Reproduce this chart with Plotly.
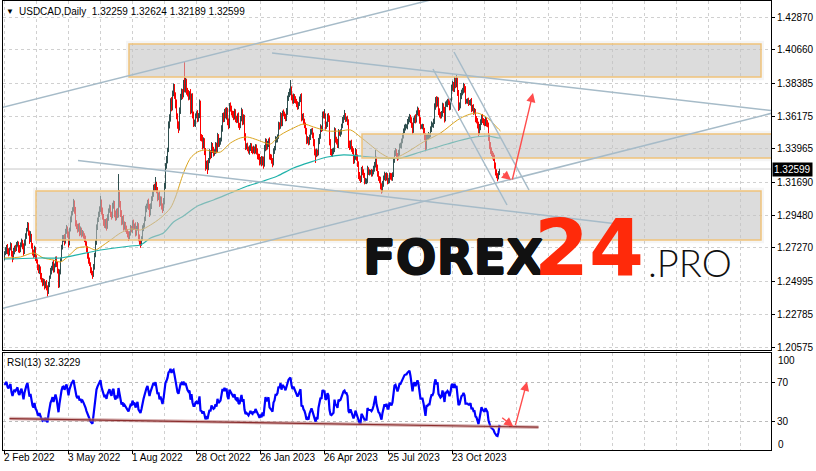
import numpy as np
import plotly.graph_objects as go

# ---------------- data (prices in pips, 1 pip = 0.0001) ----------------
LABEL_BARS = [0, 64, 128, 192, 256, 320, 384, 448]
DATE_LABELS = ["2 Feb 2022", "3 May 2022", "1 Aug 2022", "28 Oct 2022",
               "26 Jan 2023", "26 Apr 2023", "25 Jul 2023", "23 Oct 2023"]
PRICE_TICKS = [1.42870, 1.40660, 1.38385, 1.36175, 1.33965, 1.31690,
               1.29480, 1.27270, 1.24995, 1.22785, 1.20575]
PRICE_TICK_TEXT = ["1.42870", "1.40660", "1.38385", "1.36175", "1.33965", "1.31690",
                   "1.29480", "1.27270", "1.24995", "1.22785", "1.20575"]

PRE_CLOSE = [12500, 12570, 12510, 12490, 12480, 12510, 12570, 12640, 12640, 12700,
             12750, 12710, 12710, 12660]

CLOSE = [
    12690, 12710, 12735, 12700, 12690, 12720, 12745, 12690, 12660, 12700,
    12730, 12720, 12745, 12760, 12720, 12710, 12750, 12770, 12740, 12700,
    12760, 12810, 12850, 12880, 12830, 12780, 12810, 12740, 12700, 12680,
    12720, 12660, 12640, 12600, 12570, 12590, 12540, 12510, 12490, 12500,
    12470, 12490, 12460, 12430, 12480, 12530, 12570, 12590, 12620, 12580,
    12610, 12650, 12620, 12570, 12480, 12560, 12650, 12730, 12790, 12800,
    12770, 12840, 12860, 12820, 12760, 12850, 12920, 12960, 12990, 13030,
    12980, 12900, 12870, 12850, 12880, 12830, 12850, 12820, 12830, 12810,
    12790, 12760, 12720, 12680, 12640, 12620, 12580, 12560, 12545, 12600,
    12680, 12760, 12870, 12920, 12950, 12990, 13040, 12980, 12940, 12900,
    12880, 12910, 12870, 12930, 12980, 13000, 12960, 12940, 13010, 13030,
    12960, 12930, 12980, 12950, 13100, 13030, 12960, 12900, 12930, 12870,
    12890, 12860, 12840, 12820, 12800, 12830, 12860, 12850, 12900, 12870,
    12880, 12830, 12860, 12880, 12800, 12770, 12760, 12790, 12860, 12880,
    12920, 12990, 13010, 13040, 13010, 12960, 13010, 13060, 13090, 13140,
    13130, 13160, 13120, 13070, 13090, 13030, 13060, 13010, 12990, 13040,
    13150, 13280, 13320, 13390, 13560, 13600, 13720, 13680, 13770, 13810,
    13760, 13700, 13620, 13560, 13540, 13650, 13750, 13780, 13760, 13840,
    13800, 13850, 13790, 13770, 13750, 13770, 13660, 13750, 13630, 13570,
    13570, 13620, 13630, 13600, 13620, 13700, 13480, 13470, 13420, 13450,
    13380, 13280, 13300, 13270, 13320, 13370, 13350, 13420, 13390, 13370,
    13380, 13420, 13390, 13480, 13430, 13450, 13460, 13530, 13620, 13600,
    13650, 13620, 13660, 13580, 13550, 13690, 13670, 13640, 13630, 13610,
    13650, 13600, 13590, 13620, 13560, 13550, 13600, 13650, 13580, 13610,
    13480, 13410, 13420, 13400, 13380, 13400, 13420, 13390, 13380, 13400,
    13380, 13410, 13380, 13350, 13340, 13310, 13330, 13300, 13330, 13290,
    13400, 13450, 13410, 13430, 13450, 13350, 13340, 13320, 13300, 13380,
    13400, 13460, 13460, 13480, 13560, 13550, 13620, 13570, 13640, 13630,
    13620, 13600, 13650, 13740, 13760, 13780, 13800, 13750, 13720, 13750,
    13730, 13720, 13700, 13680, 13700, 13730, 13750, 13610, 13620, 13580,
    13560, 13520, 13450, 13460, 13440, 13480, 13510, 13520, 13490, 13440,
    13380, 13360, 13380, 13370, 13450, 13480, 13540, 13530, 13630, 13620,
    13620, 13550, 13560, 13620, 13600, 13450, 13380, 13370, 13380, 13390,
    13520, 13460, 13450, 13420, 13510, 13500, 13510, 13550, 13590, 13610,
    13620, 13600, 13600, 13580, 13430, 13410, 13440, 13400, 13380, 13320,
    13340, 13380, 13340, 13300, 13220, 13200, 13190, 13260, 13240, 13220,
    13180, 13180, 13180, 13260, 13240, 13240, 13240, 13230, 13240, 13260,
    13290, 13330, 13270, 13230, 13200, 13190, 13150, 13120, 13160, 13200,
    13220, 13200, 13220, 13180, 13180, 13220, 13210, 13200, 13220, 13320,
    13370, 13380, 13350, 13340, 13370, 13420, 13420, 13450, 13480, 13520,
    13540, 13550, 13550, 13580, 13600, 13610, 13590, 13560, 13520, 13590,
    13610, 13590, 13640, 13660, 13640, 13590, 13550, 13550, 13550, 13520,
    13480, 13410, 13480, 13480, 13490, 13490, 13530, 13560, 13560, 13580,
    13680, 13730, 13700, 13730, 13650, 13630, 13620, 13630, 13690, 13660,
    13600, 13700, 13700, 13720, 13710, 13680, 13720, 13810, 13830, 13800,
    13860, 13830, 13860, 13780, 13680, 13690, 13750, 13780, 13790, 13820,
    13800, 13720, 13720, 13720, 13710, 13710, 13720, 13670, 13680, 13650,
    13650, 13600, 13590, 13560, 13510, 13540, 13580, 13610, 13590, 13580,
    13570, 13590, 13570, 13560, 13480, 13420, 13390, 13370, 13350, 13340,
    13290, 13240, 13220, 13210, 13225.9, 13259.9,
]

UPPER_WICK = [
    15, 22, 12, 18, 25, 10, 20, 14, 16, 28, 12, 18, 22, 15, 10, 26, 14, 20, 12, 18,
    24, 16, 12, 22, 18, 14, 30, 12, 20, 16, 22, 14, 18, 10, 16, 24, 12, 18, 14, 20,
    16, 12, 20, 14, 18, 10, 22, 16, 14, 26, 12, 18, 20, 14, 16, 22, 12, 18, 24, 14,
    20, 16, 22, 12, 18, 14, 20, 16, 12, 28, 18, 24, 14, 20, 12, 16, 22, 14, 18, 10,
    16, 20, 12, 18, 14, 22, 10, 16, 12, 18, 14, 20, 16, 12, 22, 18, 38, 14, 20, 16,
    22, 12, 18, 24, 14, 20, 16, 12, 22, 18, 14, 20, 12, 16, 126, 18, 14, 22, 12, 20,
    16, 12, 18, 14, 20, 10, 22, 16, 14, 18, 12, 20, 16, 22, 14, 18, 12, 16, 20, 14,
    18, 22, 16, 12, 20, 14, 18, 16, 22, 14, 20, 46, 14, 18, 12, 22, 16, 14, 18, 24,
    16, 20, 28, 14, 22, 30, 18, 26, 20, 28, 24, 18, 30, 16, 22, 26, 18, 24, 20, 22,
    143, 26, 20, 18, 24, 16, 30, 20, 22, 18, 24, 16, 20, 28, 18, 30, 22, 16, 20, 24,
    18, 22, 16, 20, 14, 24, 18, 22, 16, 20, 14, 22, 18, 24, 16, 20, 12, 26, 18, 22,
    16, 24, 18, 14, 22, 16, 20, 18, 14, 22, 18, 14, 20, 16, 22, 12, 18, 24, 14, 20,
    16, 22, 14, 18, 12, 20, 16, 14, 22, 18, 12, 18, 16, 20, 14, 22, 12, 18, 16, 14,
    22, 18, 14, 20, 16, 24, 12, 18, 14, 20, 16, 22, 18, 14, 20, 16, 24, 18, 14, 22,
    18, 14, 22, 16, 20, 24, 61, 18, 14, 20, 16, 22, 14, 18, 12, 20, 16, 22, 14, 18,
    20, 14, 18, 22, 16, 12, 20, 14, 18, 16, 22, 14, 18, 12, 20, 16, 22, 14, 18, 20,
    45, 16, 20, 14, 18, 22, 12, 16, 20, 14, 22, 16, 18, 14, 20, 12, 18, 16, 22, 14,
    39, 18, 14, 20, 16, 22, 12, 18, 14, 20, 16, 22, 14, 18, 12, 20, 16, 14, 22, 18,
    14, 20, 16, 22, 12, 18, 14, 20, 16, 22, 18, 58, 14, 20, 16, 12, 18, 14, 20, 16,
    22, 14, 18, 12, 20, 16, 14, 22, 18, 20, 16, 22, 14, 18, 20, 12, 18, 16, 22, 14,
    20, 16, 12, 18, 14, 22, 16, 20, 14, 18, 12, 20, 16, 22, 14, 18, 20, 12, 16, 14,
    18, 22, 14, 16, 20, 12, 18, 22, 14, 20, 24, 16, 22, 18, 14, 20, 16, 22, 18, 14,
    20, 16, 24, 14, 18, 22, 16, 20, 26, 18, 22, 16, 39, 18, 14, 20, 24, 16, 18, 22,
    16, 20, 14, 18, 22, 16, 12, 20, 14, 18, 22, 16, 18, 14, 20, 24, 16, 18, 22, 14,
    18, 22, 16, 20, 14, 18, 22, 16, 12, 20, 16, 14, 18, 12, 20, 2.5,
]

LOWER_WICK = [
    18, 12, 24, 16, 20, 14, 10, 22, 30, 12, 16, 20, 14, 10, 24, 18, 12, 16, 22, 26,
    14, 18, 22, 12, 20, 26, 14, 18, 24, 20, 16, 22, 18, 24, 14, 20, 26, 16, 22, 18,
    24, 16, 20, 35, 14, 18, 12, 22, 16, 20, 18, 14, 22, 16, 24, 20, 12, 16, 14, 22,
    26, 14, 18, 24, 30, 16, 12, 20, 14, 18, 22, 28, 16, 20, 14, 24, 18, 22, 16, 20,
    24, 18, 22, 26, 20, 16, 24, 18, 27, 14, 20, 16, 12, 22, 18, 14, 20, 28, 22, 24,
    18, 22, 26, 14, 20, 16, 24, 22, 12, 18, 26, 20, 16, 22, 18, 30, 24, 20, 16, 26,
    20, 24, 18, 22, 26, 16, 20, 18, 24, 22, 18, 26, 20, 16, 28, 22, 32, 18, 14, 20,
    16, 12, 22, 18, 26, 24, 14, 20, 16, 18, 22, 16, 24, 28, 20, 26, 18, 24, 27, 14,
    20, 24, 18, 22, 16, 26, 20, 30, 24, 18, 26, 30, 24, 28, 37, 20, 18, 24, 28, 16,
    22, 24, 28, 20, 26, 22, 30, 24, 28, 26, 22, 26, 18, 24, 20, 16, 30, 24, 28, 20,
    26, 32, 22, 44, 18, 20, 24, 16, 22, 26, 20, 18, 24, 16, 22, 20, 26, 14, 18, 24,
    22, 18, 26, 24, 20, 14, 22, 18, 24, 20, 16, 24, 20, 18, 22, 26, 14, 18, 24, 20,
    28, 22, 18, 20, 16, 24, 18, 22, 20, 14, 20, 16, 22, 24, 18, 26, 20, 22, 16, 28,
    14, 20, 24, 18, 22, 26, 20, 24, 28, 16, 18, 14, 22, 20, 16, 24, 18, 22, 20, 14,
    22, 18, 16, 24, 20, 14, 22, 26, 18, 20, 24, 18, 22, 20, 16, 14, 18, 28, 22, 20,
    24, 26, 22, 18, 20, 16, 24, 18, 22, 26, 28, 59, 20, 24, 18, 22, 16, 20, 14, 18,
    20, 24, 18, 16, 22, 30, 26, 24, 28, 20, 16, 22, 24, 18, 20, 16, 22, 18, 14, 20,
    18, 22, 20, 24, 28, 22, 18, 24, 20, 26, 22, 18, 24, 26, 28, 20, 24, 18, 22, 20,
    24, 20, 22, 16, 20, 24, 18, 22, 20, 16, 18, 20, 24, 22, 20, 26, 28, 27, 18, 20,
    16, 22, 18, 24, 20, 16, 22, 18, 20, 14, 18, 22, 20, 24, 16, 20, 18, 22, 16, 14,
    18, 20, 16, 22, 18, 24, 20, 22, 26, 16, 20, 22, 16, 18, 22, 24, 20, 18, 22, 24,
    26, 30, 20, 22, 18, 24, 16, 20, 18, 22, 16, 20, 24, 18, 26, 22, 20, 18, 16, 22,
    26, 18, 20, 22, 18, 24, 20, 16, 22, 18, 20, 24, 18, 26, 28, 22, 20, 18, 22, 20,
    24, 22, 18, 20, 24, 18, 22, 26, 20, 24, 20, 24, 22, 26, 28, 20, 18, 22, 20, 24,
    22, 20, 24, 18, 30, 26, 28, 22, 24, 26, 28, 24, 22, 33, 20, 7,
]

# moving averages (bar index, price)
ORANGE_MA_BARS = [0, 16, 29, 39, 49, 56, 63, 73, 83, 91, 96, 106, 116, 126, 136, 146, 156,
                  166, 171, 179, 186, 193, 201, 209, 216, 226, 236, 243, 253, 261, 266, 276,
                  289, 299, 309, 323, 336, 346, 356, 366, 376, 386, 393, 403, 419, 436, 453,
                  463, 473, 483, 493, 496]
ORANGE_MA = [1.2659, 1.2666, 1.2693, 1.2659, 1.2645, 1.2632, 1.2666, 1.2726, 1.2733, 1.2713,
             1.2733, 1.2780, 1.2828, 1.2855, 1.2848, 1.2882, 1.2929, 1.2997, 1.3071, 1.3233,
             1.3334, 1.3375, 1.3389, 1.3375, 1.3375, 1.3436, 1.3470, 1.3476, 1.3456, 1.3436,
             1.3429, 1.3490, 1.3537, 1.3564, 1.3544, 1.3517, 1.3517, 1.3524, 1.3476, 1.3422,
             1.3368, 1.3334, 1.3341, 1.3375, 1.3443, 1.3503, 1.3591, 1.3625, 1.3638, 1.3605,
             1.3537, 1.3517]
TEAL_MA_BARS = [0, 36, 56, 96, 126, 136, 146, 159, 169, 179, 193, 209, 226, 243, 259, 273,
                289, 306, 323, 339, 356, 366, 386, 396, 416, 443, 466, 483, 493, 496]
TEAL_MA = [1.2652, 1.2659, 1.2659, 1.2713, 1.2740, 1.2747, 1.2794, 1.2828, 1.2902, 1.2943,
           1.3010, 1.3051, 1.3098, 1.3145, 1.3179, 1.3213, 1.3267, 1.3307, 1.3341, 1.3355,
           1.3348, 1.3341, 1.3334, 1.3334, 1.3375, 1.3429, 1.3470, 1.3483, 1.3470, 1.3470]

LAST_PRICE = 1.32599
RSI_PERIOD = 13

# ---------------- geometry ----------------
W, H = 816, 471
L, R, T, B = 3, 771, 1, 450          # plot area in pixels
MAIN_BOTTOM, RSI_TOP = 350, 353
Y_TOP, Y_BOT = 1.43951, 1.20373
X0, X1 = -1.5, 766.5


def px(x):
    return (x - L) / (R - L)


def py(y):
    return (B - y) / (B - T)


# ---------------- candles ----------------
closes = np.array(CLOSE, dtype=float) / 1e4
opens = np.concatenate([[PRE_CLOSE[-1] / 1e4], closes[:-1]])
uw = np.array(UPPER_WICK, dtype=float) / 1e4
lw = np.array(LOWER_WICK, dtype=float) / 1e4
highs = np.maximum(opens, closes) + uw
lows = np.minimum(opens, closes) - lw

up_x, up_y, dn_x, dn_y = [], [], [], []
for i in range(len(closes)):
    if closes[i] >= opens[i]:
        up_x += [i, i, None]
        up_y += [lows[i], highs[i], None]
    else:
        dn_x += [i, i, None]
        dn_y += [lows[i], highs[i], None]

# ---------------- RSI (Wilder) ----------------
allc = np.array(PRE_CLOSE + CLOSE, dtype=float) / 1e4
d = np.diff(allc)
g = np.clip(d, 0, None)
ls = np.clip(-d, 0, None)
n = RSI_PERIOD
ag, al = g[:n].mean(), ls[:n].mean()
rsi = []
for k in range(n, len(d)):
    ag = (ag * (n - 1) + g[k]) / n
    al = (al * (n - 1) + ls[k]) / n
    rsi.append(100 - 100 / (1 + ag / al) if al > 0 else 100)
rsi_x = list(range(len(closes) - len(rsi), len(closes)))

fig = go.Figure()
fig.add_trace(go.Scatter(x=up_x, y=up_y, mode="lines", line=dict(color="#2F4F4F", width=1),
                         hoverinfo="skip", xaxis="x", yaxis="y"))
fig.add_trace(go.Scatter(x=dn_x, y=dn_y, mode="lines", line=dict(color="#FF0000", width=1),
                         hoverinfo="skip", xaxis="x", yaxis="y"))
fig.add_trace(go.Scatter(x=ORANGE_MA_BARS, y=ORANGE_MA, mode="lines",
                         line=dict(color="#DAA520", width=1, shape="spline", smoothing=0.8),
                         xaxis="x", yaxis="y"))
fig.add_trace(go.Scatter(x=TEAL_MA_BARS, y=TEAL_MA, mode="lines",
                         line=dict(color="#20B2AA", width=1.2, shape="spline", smoothing=0.8),
                         xaxis="x", yaxis="y"))
fig.add_trace(go.Scatter(x=rsi_x, y=rsi, mode="lines", line=dict(color="#0000FF", width=2.2),
                         xaxis="x2", yaxis="y2"))

grid = "#D0D0D0"
dash = "3px,3px"
grid_vals = [32 * k for k in range(24)]
minor_vals = [v for v in grid_vals if v not in LABEL_BARS]

fig.update_layout(
    width=W, height=H, showlegend=False,
    paper_bgcolor="white", plot_bgcolor="white",
    margin=dict(l=L, r=W - R, t=T, b=H - B, pad=0, autoexpand=False),
    font=dict(family="Liberation Sans, Arial, sans-serif", size=10, color="black"),
    xaxis=dict(domain=[0, 1], range=[X0, X1], anchor="y", tickvals=LABEL_BARS,
               showticklabels=False, ticks="", showgrid=True, gridcolor=grid, griddash=dash,
               gridwidth=1, minor=dict(tickvals=minor_vals, showgrid=True, gridcolor=grid,
                                       griddash=dash, ticks=""), automargin=False,
               showline=True, mirror=True, linecolor="black", linewidth=1, zeroline=False),
    yaxis=dict(domain=[py(MAIN_BOTTOM), 1], range=[Y_BOT, Y_TOP], side="right",
               tickvals=PRICE_TICKS, ticktext=PRICE_TICK_TEXT, ticks="outside", ticklen=3,
               tickcolor="black", showgrid=True, gridcolor=grid, griddash=dash, automargin=False,
               showline=True, mirror=True, linecolor="black", linewidth=1, zeroline=False,
               tickfont=dict(size=10)),
    xaxis2=dict(domain=[0, 1], range=[X0, X1], anchor="y2", tickvals=LABEL_BARS,
                showticklabels=False, ticks="outside", ticklen=3, tickcolor="black",
                showgrid=True, gridcolor=grid, griddash=dash, automargin=False,
                minor=dict(tickvals=minor_vals, showgrid=True, gridcolor=grid,
                           griddash=dash, ticks=""),
                showline=True, mirror=True, linecolor="black", linewidth=1, zeroline=False),
    yaxis2=dict(domain=[0, py(RSI_TOP)], range=[0.5, 100], side="right", anchor="x2",
                tickvals=[70, 30], ticktext=["70", "30"], ticks="outside", ticklen=3,
                tickcolor="black", showgrid=True, gridcolor="#BBBBBB", griddash=dash,
                automargin=False,
                showline=True, mirror=True, linecolor="black", linewidth=1, zeroline=False,
                tickfont=dict(size=10)),
)

shapes = []
# current price line
shapes.append(dict(type="line", xref="x", yref="y", x0=X0, x1=X1, y0=LAST_PRICE, y1=LAST_PRICE,
                   line=dict(color="#C8C8C8", width=1), layer="below"))

# zones (time/price anchored rectangles)
ZONES = [(124.5, 756.5, 1.41046, 1.38816), (357.5, 770, 1.34965, 1.33344),
         (31.5, 756.5, 1.31115, 1.27807)]
for (a, b_, top, bot) in ZONES:
    pad = 0.0022
    shapes.append(dict(type="rect", xref="x", yref="y", x0=a - 3, x1=b_ + 3, y0=bot - pad, y1=top + pad,
                       fillcolor="rgba(120,120,120,0.07)", line=dict(width=0), layer="above"))
    shapes.append(dict(type="rect", xref="x", yref="y", x0=a, x1=b_, y0=bot, y1=top,
                       fillcolor="rgba(199,199,199,0.55)",
                       line=dict(color="#EFC27A", width=1.5), layer="above"))

# trend lines
TLINES = [(-10, 1.36628, 500, 1.45275), (-10, 1.23048, 820, 1.37276),
          (267.5, 1.40438, 820, 1.36141), (73.5, 1.33175, 615.5, 1.28872),
          (428.5, 1.39357, 502.5, 1.30169), (449.5, 1.40505, 524.5, 1.31182)]
for (a, pa, b_, pb) in TLINES:
    shapes.append(dict(type="line", xref="x", yref="y", x0=a, y0=pa, x1=b_, y1=pb,
                       line=dict(color="#A6BBC8", width=1.5), layer="above"))

# RSI support line
shapes.append(dict(type="line", xref="x2", yref="y2", x0=5, y0=32.7, x1=534, y1=23.9,
                   line=dict(color="rgba(190,130,130,0.6)", width=3.5), layer="above"))
shapes.append(dict(type="line", xref="x2", yref="y2", x0=5, y0=32.7, x1=534, y1=23.9,
                   line=dict(color="#8B2E2E", width=1.2), layer="above"))
fig.update_layout(shapes=shapes)

ann = []
ARROWS = [("x", "y", 497.2, 1.32378, 506.5, 1.31858), ("x", "y", 507.5, 1.31791, 528.5, 1.37735),
          ("x2", "y2", 496.2, 34.8, 508.8, 24.5), ("x2", "y2", 510.5, 24.5, 522.5, 70.4)]
for (xr, yr, tx, ty, hx, hy) in ARROWS:
    ann.append(dict(xref=xr, yref=yr, axref=xr, ayref=yr, x=hx, y=hy, ax=tx, ay=ty, text="",
                    showarrow=True, arrowhead=2, arrowsize=1.3, arrowwidth=1.4,
                    arrowcolor="#FF4D4D", standoff=0, startstandoff=0))

# header + indicator captions
ann.append(dict(xref="paper", yref="paper", x=px(4), y=py(11), xanchor="left", yanchor="middle",
                text="\u25bc", showarrow=False, font=dict(size=8, color="black")))
ann.append(dict(xref="paper", yref="paper", x=px(17), y=py(11), xanchor="left", yanchor="middle",
                text="USDCAD,Daily\u00a0\u00a01.32259 1.32624 1.32189 1.32599", showarrow=False,
                font=dict(size=10, color="black")))
ann.append(dict(xref="paper", yref="paper", x=px(5), y=py(362), xanchor="left", yanchor="middle",
                text="RSI(13) 32.3229", showarrow=False, font=dict(size=10, color="black")))
for t, yy in [("100", 360), ("0", 444)]:
    ann.append(dict(xref="paper", yref="paper", x=px(776), y=py(yy), xanchor="left",
                    yanchor="middle", text=t, showarrow=False, font=dict(size=10, color="black")))
# date labels (left aligned at the bar position)
for bar, lab in zip(LABEL_BARS, DATE_LABELS):
    ann.append(dict(xref="paper", yref="paper", x=px(4.5 + bar - 2.5), y=py(458), xanchor="left",
                    yanchor="middle", text=lab, showarrow=False, font=dict(size=10, color="black")))
# last price tag
ann.append(dict(xref="paper", yref="y", x=px(772), y=LAST_PRICE, xanchor="left", yanchor="middle",
                text="1.32599", showarrow=False, bgcolor="black", borderpad=1,
                font=dict(size=10, color="white")))
# watermark
thick = "0.7px 0 0 #111, -0.7px 0 0 #111, 0 0.7px 0 #111, 0 -0.7px 0 #111"
ann.append(dict(xref="paper", yref="paper", x=px(361), y=py(257), xanchor="left", yanchor="middle",
                text="FOREX", showarrow=False,
                font=dict(family="DejaVu Sans", size=48, color="#111111", weight="bold",
                          shadow=thick)))
ann.append(dict(xref="paper", yref="paper", x=px(532), y=py(248), xanchor="left", yanchor="middle",
                text="24", showarrow=False,
                font=dict(family="DejaVu Sans", size=79, color="#FF2A0A", weight="bold")))
ann.append(dict(xref="paper", yref="paper", x=px(646), y=py(262), xanchor="left", yanchor="middle",
                text=".PRO", showarrow=False,
                font=dict(family="Lato, Inter, sans-serif", size=38, color="#111111", weight=300)))
fig.update_layout(annotations=ann)

fig.write_html("out.html", config={"displayModeBar": False, "displaylogo": False},
               post_script="document.body.style.margin='0';document.body.style.overflow='hidden';")
